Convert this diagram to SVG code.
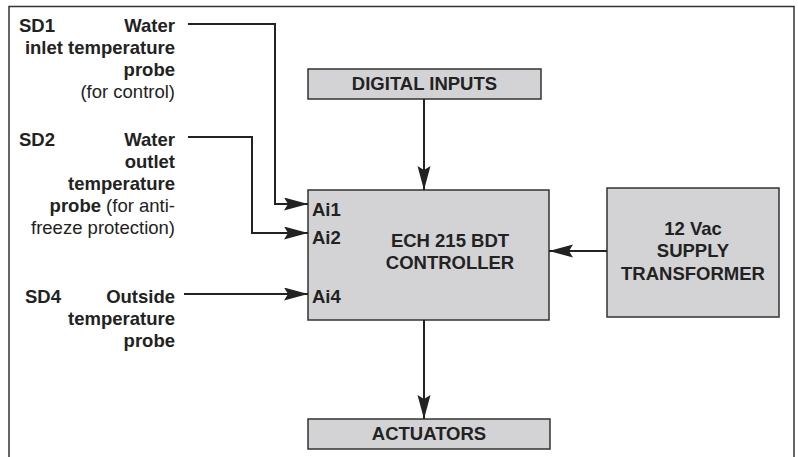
<svg xmlns="http://www.w3.org/2000/svg" width="798" height="457" viewBox="0 0 798 457">
<style>
.box{fill:#d3d3d5;stroke:#333;stroke-width:1.5}
.wire{fill:none;stroke:#222;stroke-width:2}
text{font-family:"Liberation Sans",Arial,sans-serif;font-size:18.5px;fill:#222}
.b{font-weight:bold}
.n{font-weight:normal}
.r{text-anchor:end}
.c{text-anchor:middle}
</style>
<defs>
<marker id="ah" markerUnits="userSpaceOnUse" markerWidth="26" markerHeight="14" refX="24" refY="6.5" orient="auto">
<path d="M0,0 L24,6.5 L0,13 L4,6.5 Z" fill="#222"/>
</marker>
</defs>
<rect width="798" height="457" fill="#fff"/>
<path d="M9,457 L9,6.5 L794,6.5 L794,457" fill="none" stroke="#333" stroke-width="1.5"/>

<g id="labels-left">
<text class="b" x="19" y="32">SD1</text>
<text class="b r" x="175" y="32">Water</text>
<text class="b r" x="175" y="54">inlet temperature</text>
<text class="b r" x="175" y="76">probe</text>
<text class="n r" x="175" y="98">(for control)</text>

<text class="b" x="19" y="146">SD2</text>
<text class="b r" x="175" y="146">Water</text>
<text class="b r" x="175" y="168">outlet</text>
<text class="b r" x="175" y="190">temperature</text>
<text class="r" x="175" y="212"><tspan class="b">probe</tspan><tspan class="n"> (for anti-</tspan></text>
<text class="n r" x="175" y="234">freeze protection)</text>

<text class="b" x="25" y="303">SD4</text>
<text class="b r" x="175" y="303">Outside</text>
<text class="b r" x="175" y="325">temperature</text>
<text class="b r" x="175" y="347">probe</text>
</g>

<g id="digital-inputs">
<rect class="box" x="308" y="69" width="233" height="30"/>
<text class="b c" x="424.5" y="90">DIGITAL INPUTS</text>
</g>

<g id="controller">
<rect class="box" x="308" y="190" width="241" height="130"/>
<text class="b" x="312" y="216">Ai1</text>
<text class="b" x="312" y="244">Ai2</text>
<text class="b" x="312" y="303">Ai4</text>
<text class="b c" x="450" y="247">ECH 215 BDT</text>
<text class="b c" x="450" y="269">CONTROLLER</text>
</g>

<g id="transformer">
<rect class="box" x="607" y="188" width="172" height="129"/>
<text class="b c" x="693" y="235">12 Vac</text>
<text class="b c" x="693" y="257">SUPPLY</text>
<text class="b c" x="693" y="280">TRANSFORMER</text>
</g>

<g id="actuators">
<rect class="box" x="308" y="419" width="242" height="30"/>
<text class="b c" x="429" y="440">ACTUATORS</text>
</g>

<g id="connectors">
<path class="wire" d="M188,24 H275 V204 H308" marker-end="url(#ah)"/>
<path class="wire" d="M188,137 H252 V233 H308" marker-end="url(#ah)"/>
<path class="wire" d="M184,294 H308" marker-end="url(#ah)"/>
<path class="wire" d="M424,99 V190" marker-end="url(#ah)"/>
<path class="wire" d="M607,251 H549" marker-end="url(#ah)"/>
<path class="wire" d="M424,320 V419" marker-end="url(#ah)"/>
</g>
</svg>
